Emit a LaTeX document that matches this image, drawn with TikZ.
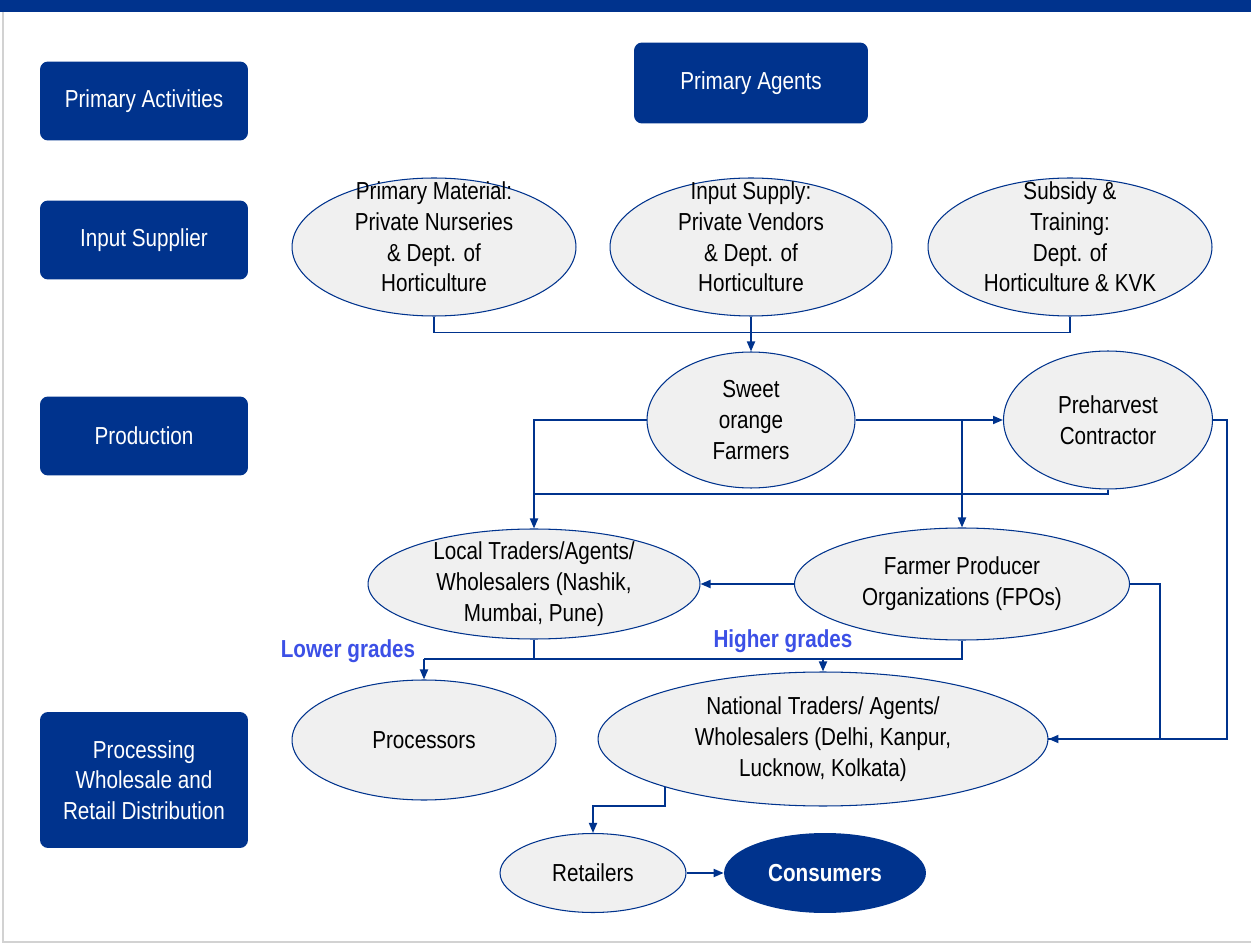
\documentclass[tikz,border=0pt]{standalone}
\usepackage{fontspec}
\setmainfont[FakeStretch=0.84]{Liberation Sans}
\usetikzlibrary{arrows.meta, positioning, shapes.geometric}
\definecolor{navy}{RGB}{0,51,141}
\definecolor{ovalgray}{RGB}{240,240,240}
\definecolor{gradeblue}{RGB}{60,80,230}

\begin{document}
\begin{tikzpicture}[
          x=0.02cm, y=-0.02cm,
          every node/.style={font=\fontsize{14}{17.5}\selectfont, align=center},
          stage/.style={rectangle, rounded corners=0.16cm, fill=navy, text=white,
            minimum width=4.16cm, minimum height=1.58cm},
          agent/.style={ellipse, draw=navy, line width=0.6pt, fill=ovalgray, inner sep=-2cm},
          flow/.style={draw=navy, line width=1pt, -{Triangle[length=0.2cm, width=0.16cm]}},
          link/.style={draw=navy, line width=1pt},
          grade/.style={text=gradeblue, font=\fontsize{14}{17}\selectfont\bfseries}
        ]
          \useasboundingbox (0,0) rectangle (1251,945);
          \fill[navy] (0,0) rectangle (1251,12);
          \draw[gray!35, line width=1pt] (3,12) -- (3,942) -- (1251,942);

          % activity column
          \node[stage] (act) at (144,101) {Primary Activities};
          \node[stage] (insup) at (144,240) {Input Supplier};
          \node[stage] (prod) at (144,436) {Production};
          \node[stage, minimum height=2.72cm] (dist) at (144,780) {Processing\\Wholesale and\\Retail Distribution};
          \node[stage, minimum width=4.68cm, minimum height=1.62cm] (agents) at (751,83) {Primary Agents};

          % input suppliers
          \node[agent, minimum width=5.68cm, minimum height=2.76cm] (mat) at (434,247)
            {Primary Material:\\Private Nurseries\\\& Dept. of\\Horticulture\\[-6pt]};
          \node[agent, minimum width=5.64cm, minimum height=2.76cm] (inp) at (751,247)
            {Input Supply:\\Private Vendors\\\& Dept. of\\Horticulture\\[-6pt]};
          \node[agent, minimum width=5.68cm, minimum height=2.76cm] (sub) at (1070,247)
            {Subsidy \&\\Training:\\Dept. of\\Horticulture \& KVK\\[-6pt]};

          % production
          \node[agent, minimum width=4.16cm, minimum height=2.72cm] (farm) at (751,420)
            {Sweet\\orange\\Farmers};
          \node[agent, minimum width=4.18cm, minimum height=2.76cm] (pre) at (1108,420)
            {Preharvest\\Contractor};

          % traders
          \node[agent, minimum width=6.64cm, minimum height=2.2cm] (local) at (534,584)
            {Local Traders/Agents/\\Wholesalers (Nashik,\\Mumbai, Pune)};
          \node[agent, minimum width=6.7cm, minimum height=2.24cm] (fpo) at (962,584)
            {Farmer Producer\\Organizations (FPOs)};
          \node[agent, minimum width=5.28cm, minimum height=2.4cm] (proc) at (424,740)
            {Processors};
          \node[agent, minimum width=9cm, minimum height=2.68cm] (nat) at (823,739)
            {National Traders/ Agents/\\Wholesalers (Delhi, Kanpur,\\Lucknow, Kolkata)};
          \node[agent, minimum width=3.72cm, minimum height=1.58cm] (ret) at (593,873)
            {Retailers};
          \node[ellipse, fill=navy, text=white, font=\fontsize{14}{17}\selectfont\bfseries,
            inner sep=-2cm, minimum width=4.04cm, minimum height=1.6cm] (con) at (825,873)
            {Consumers};

          \node[grade] (lowlbl) at (348,651) {Lower grades};
          \node[grade] (highlbl) at (783,641) {Higher grades};

          \coordinate (tie) at (534,494);
          \coordinate (lowbar) at (424,659);

          % flows
          \draw[link] (mat.south) -- ++(0,16) -| (sub.south);
          \draw[flow] (inp.south) -- (farm.north);
          \draw[flow] (farm.west) -| (local.north);
          \draw[flow] (farm.east) -- (pre.west);
          \draw[flow] (farm.east -| fpo.north) -- (fpo.north);
          \draw[link] (pre.south) |- (tie);
          \draw[flow] (pre.east) -- ++(14,0) |- (nat.east);
          \draw[link] (fpo.east) -- ++(30,0) |- (nat.east);
          \draw[flow] (fpo.west) -- (local.east);
          \draw[link] (local.south) |- (lowbar);
          \draw[link] (fpo.south) |- (lowbar);
          \draw[flow] (lowbar) -- (proc.north);
          \draw[flow] (nat.north |- lowbar) -- (nat.north);
          \draw[flow] (nat.197) -- ++(0,19) -| (ret.north);
          \draw[flow] (ret.east) -- (con.west);
        \end{tikzpicture}
\end{document}
